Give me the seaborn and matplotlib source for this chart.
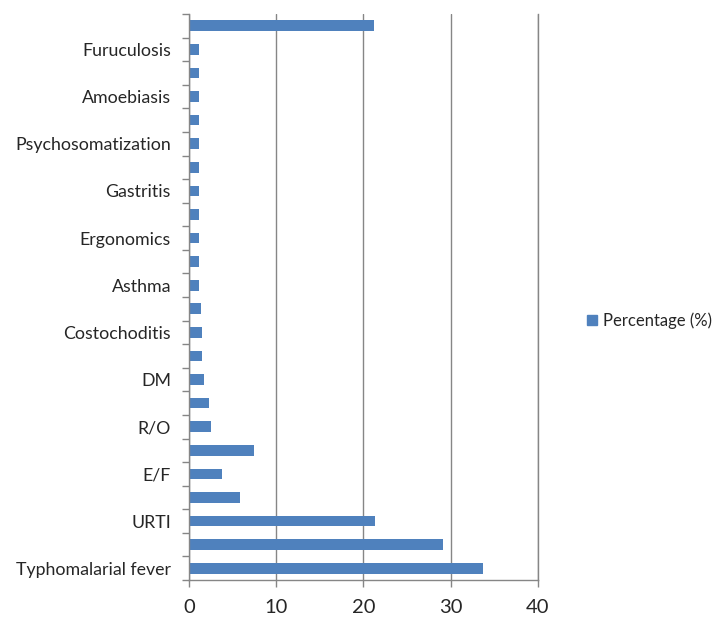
import matplotlib
matplotlib.use("Agg")
import matplotlib.pyplot as plt
import seaborn as sns
import pandas as pd
import numpy as np
from matplotlib.lines import Line2D
from matplotlib.ticker import FixedLocator

# Categories from bottom to top (Excel shows every other label)
categories = ["Typhomalarial fever", "", "URTI", "", "E/F", "", "R/O", "", "DM", "",
              "Costochoditis", "", "Asthma", "", "Ergonomics", "", "Gastritis", "",
              "Psychosomatization", "", "Amoebiasis", "", "Furuculosis", ""]
percentages = [33.7, 29.1, 21.3, 5.8, 3.75, 7.4, 2.55, 2.3, 1.75, 1.5,
               1.5, 1.35, 1.15, 1.15, 1.15, 1.15, 1.15, 1.15,
               1.15, 1.15, 1.15, 1.15, 1.15, 21.2]
series_name = "Percentage (%)"
x_ticks = [0, 10, 20, 30, 40]

sns.set_style("white")
plt.rcParams['font.family'] = ['Lato', 'DejaVu Sans']

df = pd.DataFrame({"pos": [f"c{i}" for i in range(len(categories))],
                   "label": categories, "pct": percentages})
order = list(df["pos"])[::-1]  # top first

fig = plt.figure(figsize=(7.16, 6.22), dpi=100)
ax = fig.add_axes([0.264, 0.0675, 0.487, 0.91])
bar_color = "#4F81BD"
sns.barplot(data=df, x="pct", y="pos", order=order, orient="h", color=bar_color,
            width=0.45, saturation=1, ax=ax, edgecolor="none")

ax.set_xlim(0, 40)
ax.set_ylim(len(categories) - 0.5, -0.5)
ax.set_xticks(x_ticks)
ax.set_xticklabels([str(t) for t in x_ticks], fontsize=14.5)
ax.set_yticks(range(len(order)))
ax.set_yticklabels([categories[len(categories) - 1 - i] for i in range(len(order))], fontsize=12.8)
ax.yaxis.set_minor_locator(FixedLocator(np.arange(-0.5, len(categories), 1.0)))
ax.tick_params(axis="y", which="major", length=0, pad=13)
ax.tick_params(axis="y", which="minor", length=5, color="#868686", width=1, direction="out", left=True)
ax.tick_params(axis="x", which="major", length=5, color="#868686", width=1, direction="out",
               bottom=True, pad=9)
ax.set_xlabel("")
ax.set_ylabel("")
ax.xaxis.grid(True, color="#868686", linewidth=1)
ax.set_axisbelow(True)
ax.spines["top"].set_visible(False)
for s in ["left", "bottom", "right"]:
    ax.spines[s].set_color("#868686")
    ax.spines[s].set_linewidth(1)

handle = Line2D([], [], marker="s", linestyle="none", markersize=7,
                markerfacecolor=bar_color, markeredgecolor=bar_color)
fig.legend([handle], [series_name], loc="center left", bbox_to_anchor=(0.806, 0.485),
           frameon=False, fontsize=12, handletextpad=0.25, borderpad=0, handlelength=0.8)

fig.savefig("out.png", dpi=100)
